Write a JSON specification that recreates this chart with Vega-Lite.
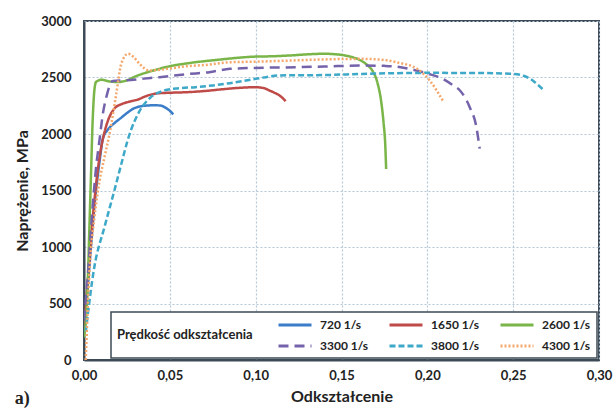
{
  "$schema": "https://vega.github.io/schema/vega-lite/v6.json",
  "width": 515,
  "height": 339,
  "autosize": "none",
  "padding": {"left": 84, "top": 21, "right": 17, "bottom": 54},
  "background": "white",
  "title": {"text": "a)", "orient": "bottom", "anchor": "start", "dx": 0, "dy": -18, "font": "Liberation Serif", "fontSize": 18, "fontWeight": "bold", "color": "#222"},
  "config": {
    "view": {"stroke": "#3d4a56", "strokeWidth": 2},
    "font": "Lato",
    "axis": {
      "gridColor": "#b5c6d6", "gridDash": [2, 2], "gridWidth": 1.2,
      "domainColor": "#3d4a56", "domainWidth": 2,
      "ticks": false, "tickSize": 0,
      "labelFont": "Lato", "labelFontWeight": "bold", "labelFontSize": 13, "labelColor": "#222",
      "titleFont": "Lato", "titleFontWeight": "bold", "titleFontSize": 16, "titleColor": "#222"
    },
    "legend": {
      "strokeColor": "#3d4a56", "strokeWidth": 1.5, "fillColor": "white", "padding": 6,
      "labelFont": "Lato", "labelFontWeight": "bold", "labelFontSize": 12, "labelColor": "#222",
      "titleFont": "Lato", "titleFontWeight": "bold", "titleFontSize": 13, "titleColor": "#222"
    }
  },
  "data": {"values": [
    {"s":"720 1/s","x":0,"y":250},{"s":"720 1/s","x":0.003,"y":800},{"s":"720 1/s","x":0.006,"y":1350},{"s":"720 1/s","x":0.009,"y":1750},{"s":"720 1/s","x":0.011,"y":1960},{"s":"720 1/s","x":0.014,"y":2040},{"s":"720 1/s","x":0.018,"y":2100},{"s":"720 1/s","x":0.021,"y":2136},{"s":"720 1/s","x":0.025,"y":2185},{"s":"720 1/s","x":0.029,"y":2226},{"s":"720 1/s","x":0.033,"y":2245},{"s":"720 1/s","x":0.037,"y":2252},{"s":"720 1/s","x":0.041,"y":2255},{"s":"720 1/s","x":0.045,"y":2250},{"s":"720 1/s","x":0.048,"y":2228},{"s":"720 1/s","x":0.050,"y":2205},{"s":"720 1/s","x":0.052,"y":2173},
    {"s":"1650 1/s","x":0,"y":250},{"s":"1650 1/s","x":0.002,"y":650},{"s":"1650 1/s","x":0.004,"y":1060},{"s":"1650 1/s","x":0.006,"y":1400},{"s":"1650 1/s","x":0.008,"y":1680},{"s":"1650 1/s","x":0.010,"y":1880},{"s":"1650 1/s","x":0.012,"y":2020},{"s":"1650 1/s","x":0.014,"y":2120},{"s":"1650 1/s","x":0.018,"y":2230},{"s":"1650 1/s","x":0.022,"y":2265},{"s":"1650 1/s","x":0.026,"y":2285},{"s":"1650 1/s","x":0.031,"y":2303},{"s":"1650 1/s","x":0.037,"y":2340},{"s":"1650 1/s","x":0.043,"y":2360},{"s":"1650 1/s","x":0.05,"y":2365},{"s":"1650 1/s","x":0.06,"y":2370},{"s":"1650 1/s","x":0.07,"y":2380},{"s":"1650 1/s","x":0.08,"y":2395},{"s":"1650 1/s","x":0.09,"y":2408},{"s":"1650 1/s","x":0.10,"y":2414},{"s":"1650 1/s","x":0.105,"y":2405},{"s":"1650 1/s","x":0.108,"y":2385},{"s":"1650 1/s","x":0.111,"y":2365},{"s":"1650 1/s","x":0.114,"y":2340},{"s":"1650 1/s","x":0.1175,"y":2290},
    {"s":"2600 1/s","x":0,"y":200},{"s":"2600 1/s","x":0.002,"y":600},{"s":"2600 1/s","x":0.003,"y":1100},{"s":"2600 1/s","x":0.004,"y":1600},{"s":"2600 1/s","x":0.005,"y":2100},{"s":"2600 1/s","x":0.006,"y":2380},{"s":"2600 1/s","x":0.007,"y":2460},{"s":"2600 1/s","x":0.01,"y":2480},{"s":"2600 1/s","x":0.015,"y":2465},{"s":"2600 1/s","x":0.02,"y":2460},{"s":"2600 1/s","x":0.025,"y":2475},{"s":"2600 1/s","x":0.03,"y":2510},{"s":"2600 1/s","x":0.04,"y":2560},{"s":"2600 1/s","x":0.05,"y":2600},{"s":"2600 1/s","x":0.06,"y":2625},{"s":"2600 1/s","x":0.08,"y":2660},{"s":"2600 1/s","x":0.09,"y":2675},{"s":"2600 1/s","x":0.10,"y":2685},{"s":"2600 1/s","x":0.11,"y":2688},{"s":"2600 1/s","x":0.12,"y":2695},{"s":"2600 1/s","x":0.13,"y":2705},{"s":"2600 1/s","x":0.14,"y":2710},{"s":"2600 1/s","x":0.15,"y":2700},{"s":"2600 1/s","x":0.155,"y":2685},{"s":"2600 1/s","x":0.16,"y":2660},{"s":"2600 1/s","x":0.165,"y":2610},{"s":"2600 1/s","x":0.168,"y":2560},{"s":"2600 1/s","x":0.171,"y":2450},{"s":"2600 1/s","x":0.173,"y":2300},{"s":"2600 1/s","x":0.1745,"y":2100},{"s":"2600 1/s","x":0.1755,"y":1900},{"s":"2600 1/s","x":0.176,"y":1690},
    {"s":"3300 1/s","x":0,"y":350},{"s":"3300 1/s","x":0.002,"y":700},{"s":"3300 1/s","x":0.005,"y":1350},{"s":"3300 1/s","x":0.007,"y":1700},{"s":"3300 1/s","x":0.009,"y":1943},{"s":"3300 1/s","x":0.011,"y":2180},{"s":"3300 1/s","x":0.013,"y":2326},{"s":"3300 1/s","x":0.0168,"y":2470},{"s":"3300 1/s","x":0.025,"y":2475},{"s":"3300 1/s","x":0.035,"y":2490},{"s":"3300 1/s","x":0.044,"y":2503},{"s":"3300 1/s","x":0.06,"y":2530},{"s":"3300 1/s","x":0.073,"y":2547},{"s":"3300 1/s","x":0.085,"y":2577},{"s":"3300 1/s","x":0.10,"y":2585},{"s":"3300 1/s","x":0.124,"y":2591},{"s":"3300 1/s","x":0.14,"y":2597},{"s":"3300 1/s","x":0.162,"y":2606},{"s":"3300 1/s","x":0.175,"y":2603},{"s":"3300 1/s","x":0.182,"y":2597},{"s":"3300 1/s","x":0.19,"y":2575},{"s":"3300 1/s","x":0.1937,"y":2562},{"s":"3300 1/s","x":0.20,"y":2535},{"s":"3300 1/s","x":0.209,"y":2488},{"s":"3300 1/s","x":0.215,"y":2430},{"s":"3300 1/s","x":0.219,"y":2385},{"s":"3300 1/s","x":0.2247,"y":2237},{"s":"3300 1/s","x":0.2286,"y":2060},{"s":"3300 1/s","x":0.2305,"y":1870},
    {"s":"3800 1/s","x":0.001,"y":250},{"s":"3800 1/s","x":0.006,"y":821},{"s":"3800 1/s","x":0.012,"y":1180},{"s":"3800 1/s","x":0.0177,"y":1500},{"s":"3800 1/s","x":0.022,"y":1750},{"s":"3800 1/s","x":0.0254,"y":1943},{"s":"3800 1/s","x":0.0273,"y":2031},{"s":"3800 1/s","x":0.032,"y":2193},{"s":"3800 1/s","x":0.039,"y":2326},{"s":"3800 1/s","x":0.0468,"y":2385},{"s":"3800 1/s","x":0.055,"y":2405},{"s":"3800 1/s","x":0.065,"y":2414},{"s":"3800 1/s","x":0.075,"y":2430},{"s":"3800 1/s","x":0.085,"y":2450},{"s":"3800 1/s","x":0.10,"y":2488},{"s":"3800 1/s","x":0.114,"y":2518},{"s":"3800 1/s","x":0.141,"y":2522},{"s":"3800 1/s","x":0.162,"y":2532},{"s":"3800 1/s","x":0.201,"y":2541},{"s":"3800 1/s","x":0.23,"y":2540},{"s":"3800 1/s","x":0.25,"y":2532},{"s":"3800 1/s","x":0.256,"y":2515},{"s":"3800 1/s","x":0.26,"y":2488},{"s":"3800 1/s","x":0.264,"y":2440},{"s":"3800 1/s","x":0.268,"y":2385},
    {"s":"4300 1/s","x":0.001,"y":0},{"s":"4300 1/s","x":0.0033,"y":821},{"s":"4300 1/s","x":0.006,"y":1250},{"s":"4300 1/s","x":0.0091,"y":1588},{"s":"4300 1/s","x":0.012,"y":1800},{"s":"4300 1/s","x":0.0149,"y":2003},{"s":"4300 1/s","x":0.0188,"y":2355},{"s":"4300 1/s","x":0.0217,"y":2620},{"s":"4300 1/s","x":0.0256,"y":2710},{"s":"4300 1/s","x":0.029,"y":2680},{"s":"4300 1/s","x":0.0324,"y":2620},{"s":"4300 1/s","x":0.038,"y":2562},{"s":"4300 1/s","x":0.045,"y":2570},{"s":"4300 1/s","x":0.05,"y":2580},{"s":"4300 1/s","x":0.06,"y":2600},{"s":"4300 1/s","x":0.07,"y":2610},{"s":"4300 1/s","x":0.085,"y":2635},{"s":"4300 1/s","x":0.10,"y":2640},{"s":"4300 1/s","x":0.12,"y":2650},{"s":"4300 1/s","x":0.14,"y":2660},{"s":"4300 1/s","x":0.162,"y":2665},{"s":"4300 1/s","x":0.175,"y":2655},{"s":"4300 1/s","x":0.182,"y":2635},{"s":"4300 1/s","x":0.194,"y":2577},{"s":"4300 1/s","x":0.2014,"y":2473},{"s":"4300 1/s","x":0.209,"y":2296}
  ]},
  "mark": {"type": "line", "strokeWidth": 2.5, "interpolate": "monotone", "clip": true},
  "encoding": {
    "x": {"field": "x", "type": "quantitative", "title": "Odkształcenie",
      "scale": {"domain": [0, 0.3], "nice": false},
      "axis": {"values": [0, 0.05, 0.1, 0.15, 0.2, 0.25, 0.3], "labelExpr": "replace(format(datum.value, '.2f'), '.', ',')", "labelPadding": 9, "titlePadding": 6, "labelFlush": false}},
    "y": {"field": "y", "type": "quantitative", "title": "Naprężenie, MPa",
      "scale": {"domain": [0, 3000], "nice": false},
      "axis": {"values": [0, 500, 1000, 1500, 2000, 2500, 3000], "format": "d", "labelPadding": 13, "titlePadding": 10}},
    "color": {"field": "s", "type": "nominal", "title": "Prędkość odkształcenia",
      "scale": {"domain": ["720 1/s", "1650 1/s", "2600 1/s", "3300 1/s", "3800 1/s", "4300 1/s"],
        "range": ["#3b7dc8", "#be4b48", "#79b548", "#7463aa", "#3ea8c8", "#f4a76a"]},
      "legend": {"orient": "bottom-right", "offset": 2, "columns": 3, "direction": "horizontal", "titleOrient": "left", "titleAnchor": "middle", "titlePadding": 24, "symbolType": "M-3,0H3", "symbolSize": 121, "symbolOffset": 11, "labelOffset": 18, "symbolStrokeWidth": 3, "columnPadding": 14, "rowPadding": 8, "labelLimit": 100}},
    "strokeDash": {"field": "s", "type": "nominal", "title": "Prędkość odkształcenia",
      "scale": {"domain": ["720 1/s", "1650 1/s", "2600 1/s", "3300 1/s", "3800 1/s", "4300 1/s"],
        "range": [[1, 0], [1, 0], [1, 0], [10, 6], [6, 3], [2, 2]]}}
  }
}
